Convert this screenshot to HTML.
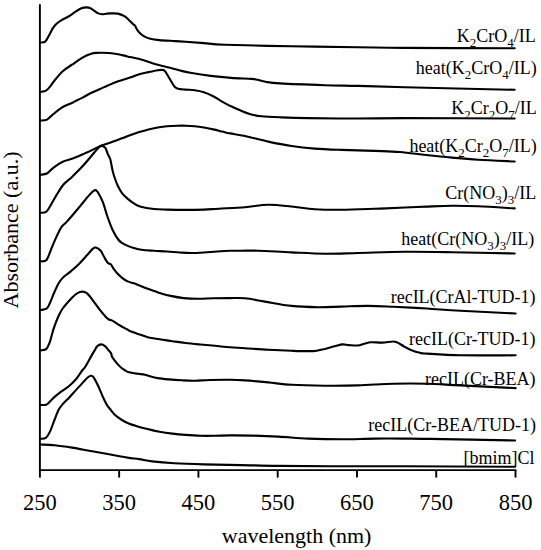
<!DOCTYPE html>
<html><head><meta charset="utf-8"><style>
html,body{margin:0;padding:0;background:#fff;}
svg{display:block;}
text{font-family:"Liberation Serif",serif;fill:#000;}
.lab{font-size:18px;}
.ax{font-size:22.5px;}
.s{font-size:0.72em;}
</style></head><body>
<svg width="541" height="550" viewBox="0 0 541 550">
<rect width="541" height="550" fill="#fff"/>
<g fill="none" stroke="#000" stroke-width="2.1" stroke-linejoin="round" stroke-linecap="round">
<path d="M40.50,42.50 C41.28,42.35 43.77,42.80 45.20,41.60 C46.63,40.40 47.82,37.53 49.10,35.30 C50.38,33.07 51.62,30.15 52.90,28.20 C54.18,26.25 55.28,25.00 56.80,23.60 C58.32,22.20 60.05,20.98 62.00,19.80 C63.95,18.62 66.35,17.77 68.50,16.50 C70.65,15.23 72.75,13.57 74.90,12.20 C77.05,10.83 79.45,9.10 81.40,8.30 C83.35,7.50 85.08,7.40 86.60,7.40 C88.12,7.40 89.22,7.72 90.50,8.30 C91.78,8.88 93.02,10.05 94.30,10.90 C95.58,11.75 96.90,12.85 98.20,13.40 C99.50,13.95 100.80,14.13 102.10,14.20 C103.40,14.27 104.68,13.93 106.00,13.80 C107.32,13.67 108.02,13.43 110.00,13.40 C111.98,13.37 115.50,13.13 117.90,13.60 C120.30,14.07 122.45,15.02 124.40,16.20 C126.35,17.38 128.08,19.30 129.60,20.70 C131.12,22.10 132.55,23.73 133.50,24.60 C134.45,25.47 134.92,25.45 135.30,25.90 C135.68,26.35 135.25,26.33 135.80,27.30 C136.35,28.27 137.27,30.22 138.60,31.70 C139.93,33.18 141.85,35.02 143.80,36.20 C145.75,37.38 147.72,38.15 150.30,38.80 C152.88,39.45 155.18,39.72 159.30,40.10 C163.42,40.48 170.63,40.82 175.00,41.10 C179.37,41.38 180.68,41.47 185.50,41.80 C190.32,42.13 197.32,42.60 203.90,43.10 C210.48,43.60 210.40,44.27 225.00,44.80 C239.60,45.33 269.33,45.90 291.50,46.30 C313.67,46.70 339.08,46.93 358.00,47.20 C376.92,47.47 378.88,47.72 405.00,47.90 C431.12,48.08 496.42,48.23 514.70,48.30"/>
<path d="M40.50,91.90 C41.42,91.68 44.45,91.43 46.00,90.60 C47.55,89.77 48.25,88.75 49.80,86.90 C51.35,85.05 53.15,82.12 55.30,79.50 C57.45,76.88 59.92,73.67 62.70,71.20 C65.48,68.73 68.62,67.02 72.00,64.70 C75.38,62.38 79.92,59.08 83.00,57.30 C86.08,55.52 88.33,54.73 90.50,54.00 C92.67,53.27 92.92,53.07 96.00,52.90 C99.08,52.73 105.30,52.78 109.00,53.00 C112.70,53.22 115.13,53.63 118.20,54.20 C121.27,54.77 123.58,55.52 127.40,56.40 C131.22,57.28 136.67,58.27 141.10,59.50 C145.53,60.73 149.18,62.43 154.00,63.80 C158.82,65.17 165.63,66.57 170.00,67.70 C174.37,68.83 176.82,69.75 180.20,70.60 C183.58,71.45 185.22,71.92 190.30,72.80 C195.38,73.68 203.92,75.05 210.70,75.90 C217.48,76.75 224.23,77.40 231.00,77.90 C237.77,78.40 246.90,78.60 251.30,78.90 C255.70,79.20 255.02,79.22 257.40,79.70 C259.78,80.18 261.83,81.18 265.60,81.80 C269.37,82.42 270.13,82.83 280.00,83.40 C289.87,83.97 311.80,84.78 324.80,85.20 C337.80,85.62 344.63,85.57 358.00,85.90 C371.37,86.23 378.88,86.55 405.00,87.20 C431.12,87.85 496.42,89.37 514.70,89.80"/>
<path d="M40.50,120.50 C41.58,120.35 44.83,120.68 47.00,119.60 C49.17,118.52 50.88,116.10 53.50,114.00 C56.12,111.90 59.62,108.83 62.70,107.00 C65.78,105.17 69.53,104.17 72.00,103.00 C74.47,101.83 75.67,100.93 77.50,100.00 C79.33,99.07 80.83,98.52 83.00,97.40 C85.17,96.28 87.67,94.70 90.50,93.30 C93.33,91.90 96.92,90.38 100.00,89.00 C103.08,87.62 105.97,86.28 109.00,85.00 C112.03,83.72 114.70,82.53 118.20,81.30 C121.70,80.07 126.50,78.77 130.00,77.60 C133.50,76.43 136.12,75.22 139.20,74.30 C142.28,73.38 145.42,72.78 148.50,72.10 C151.58,71.42 155.40,70.57 157.70,70.20 C160.00,69.83 161.07,69.73 162.30,69.90 C163.53,70.07 164.17,70.22 165.10,71.20 C166.03,72.18 166.97,74.25 167.90,75.80 C168.83,77.35 169.62,78.72 170.70,80.50 C171.78,82.28 173.18,85.13 174.40,86.50 C175.62,87.87 176.15,88.18 178.00,88.70 C179.85,89.22 182.72,89.35 185.50,89.60 C188.28,89.85 191.63,89.77 194.70,90.20 C197.77,90.63 200.82,91.20 203.90,92.20 C206.98,93.20 210.38,94.77 213.20,96.20 C216.02,97.63 217.83,99.12 220.80,100.80 C223.77,102.48 227.60,104.63 231.00,106.30 C234.40,107.97 237.82,109.43 241.20,110.80 C244.58,112.17 247.92,113.58 251.30,114.50 C254.68,115.42 256.72,115.83 261.50,116.30 C266.28,116.77 272.22,117.00 280.00,117.30 C287.78,117.60 295.20,117.90 308.20,118.10 C321.20,118.30 341.87,118.50 358.00,118.50 C374.13,118.50 378.88,118.10 405.00,118.10 C431.12,118.10 496.42,118.43 514.70,118.50"/>
<path d="M40.50,174.70 C41.58,174.50 44.83,174.68 47.00,173.50 C49.17,172.32 50.88,169.57 53.50,167.60 C56.12,165.63 59.62,163.17 62.70,161.70 C65.78,160.23 68.62,160.03 72.00,158.80 C75.38,157.57 79.32,155.92 83.00,154.30 C86.68,152.68 91.02,150.57 94.10,149.10 C97.18,147.63 98.42,146.72 101.50,145.50 C104.58,144.28 108.90,143.10 112.60,141.80 C116.30,140.50 120.80,138.78 123.70,137.70 C126.60,136.62 127.42,136.23 130.00,135.30 C132.58,134.37 136.12,133.08 139.20,132.10 C142.28,131.12 145.42,130.17 148.50,129.40 C151.58,128.63 154.62,128.03 157.70,127.50 C160.78,126.97 163.62,126.50 167.00,126.20 C170.38,125.90 174.92,125.78 178.00,125.70 C181.08,125.62 182.72,125.62 185.50,125.70 C188.28,125.78 191.63,125.90 194.70,126.20 C197.77,126.50 200.82,126.97 203.90,127.50 C206.98,128.03 210.12,128.72 213.20,129.40 C216.28,130.08 219.60,130.93 222.40,131.60 C225.20,132.27 226.23,132.67 230.00,133.40 C233.77,134.13 238.63,134.63 245.00,136.00 C251.37,137.37 260.45,139.93 268.20,141.60 C275.95,143.27 283.73,144.83 291.50,146.00 C299.27,147.17 306.48,147.95 314.80,148.60 C323.12,149.25 331.42,149.52 341.40,149.90 C351.38,150.28 364.93,150.55 374.70,150.90 C384.47,151.25 391.45,151.32 400.00,152.00 C408.55,152.68 417.33,154.07 426.00,155.00 C434.67,155.93 443.30,156.82 452.00,157.60 C460.70,158.38 467.75,159.05 478.20,159.70 C488.65,160.35 508.62,161.20 514.70,161.50"/>
<path d="M40.50,212.90 C41.43,212.72 44.55,212.82 46.10,211.80 C47.65,210.78 48.57,208.72 49.80,206.80 C51.03,204.88 52.27,202.45 53.50,200.30 C54.73,198.15 55.67,196.37 57.20,193.90 C58.73,191.43 61.02,187.67 62.70,185.50 C64.38,183.33 65.75,182.33 67.30,180.90 C68.85,179.47 69.38,179.42 72.00,176.90 C74.62,174.38 79.32,169.82 83.00,165.80 C86.68,161.78 91.40,155.93 94.10,152.80 C96.80,149.67 97.92,148.15 99.20,147.00 C100.48,145.85 100.75,145.72 101.80,145.90 C102.85,146.08 104.52,146.77 105.50,148.10 C106.48,149.43 106.97,152.20 107.70,153.90 C108.43,155.60 109.42,157.20 109.90,158.30 C110.38,159.40 110.37,159.53 110.60,160.50 C110.83,161.47 110.93,162.28 111.30,164.10 C111.67,165.92 112.18,168.97 112.80,171.40 C113.42,173.83 114.15,176.27 115.00,178.70 C115.85,181.13 116.70,183.57 117.90,186.00 C119.10,188.43 120.50,191.12 122.20,193.30 C123.90,195.48 126.15,197.42 128.10,199.10 C130.05,200.78 131.92,202.18 133.90,203.40 C135.88,204.62 136.65,205.47 140.00,206.40 C143.35,207.33 149.50,208.47 154.00,209.00 C158.50,209.53 161.75,209.45 167.00,209.60 C172.25,209.75 179.35,209.90 185.50,209.90 C191.65,209.90 198.37,209.80 203.90,209.60 C209.43,209.40 211.85,209.10 218.70,208.70 C225.55,208.30 236.75,207.85 245.00,207.20 C253.25,206.55 260.45,204.92 268.20,204.80 C275.95,204.68 283.73,205.77 291.50,206.50 C299.27,207.23 306.48,208.65 314.80,209.20 C323.12,209.75 331.42,209.87 341.40,209.80 C351.38,209.73 364.10,209.18 374.70,208.80 C385.30,208.42 396.45,207.87 405.00,207.50 C413.55,207.13 418.17,206.88 426.00,206.60 C433.83,206.32 443.30,205.85 452.00,205.80 C460.70,205.75 467.75,205.87 478.20,206.30 C488.65,206.73 508.62,208.05 514.70,208.40"/>
<path d="M40.50,261.30 C41.50,261.08 44.68,262.12 46.50,260.00 C48.32,257.88 49.77,252.42 51.40,248.60 C53.03,244.78 54.65,240.65 56.30,237.10 C57.95,233.55 59.65,229.75 61.30,227.30 C62.95,224.85 64.30,224.45 66.20,222.40 C68.10,220.35 70.25,217.87 72.70,215.00 C75.15,212.13 78.18,208.47 80.90,205.20 C83.62,201.93 86.73,197.88 89.00,195.40 C91.27,192.92 93.12,190.95 94.50,190.30 C95.88,189.65 96.35,190.47 97.30,191.50 C98.25,192.53 99.20,194.52 100.20,196.50 C101.20,198.48 102.18,200.32 103.30,203.40 C104.42,206.48 105.97,212.12 106.90,215.00 C107.83,217.88 107.95,218.20 108.90,220.70 C109.85,223.20 111.05,226.87 112.60,230.00 C114.15,233.13 116.52,237.28 118.20,239.50 C119.88,241.72 121.02,242.20 122.70,243.30 C124.38,244.40 126.45,245.32 128.30,246.10 C130.15,246.88 131.58,247.38 133.80,248.00 C136.02,248.62 138.23,249.33 141.60,249.80 C144.97,250.27 149.77,250.52 154.00,250.80 C158.23,251.08 162.68,251.22 167.00,251.50 C171.32,251.78 175.90,252.25 179.90,252.50 C183.90,252.75 187.00,253.00 191.00,253.00 C195.00,253.00 199.58,252.75 203.90,252.50 C208.22,252.25 212.55,251.78 216.90,251.50 C221.25,251.22 225.88,250.93 230.00,250.80 C234.12,250.67 236.88,250.72 241.60,250.70 C246.32,250.68 249.98,250.42 258.30,250.70 C266.62,250.98 280.42,251.90 291.50,252.40 C302.58,252.90 313.72,253.60 324.80,253.70 C335.88,253.80 344.63,253.32 358.00,253.00 C371.37,252.68 389.33,251.93 405.00,251.80 C420.67,251.67 433.72,251.92 452.00,252.20 C470.28,252.48 504.25,253.28 514.70,253.50"/>
<path d="M40.50,310.00 C41.50,309.78 45.00,309.70 46.50,308.70 C48.00,307.70 48.28,306.53 49.50,304.00 C50.72,301.47 52.30,296.92 53.80,293.50 C55.30,290.08 56.98,286.15 58.50,283.50 C60.02,280.85 61.48,279.13 62.90,277.60 C64.32,276.07 65.63,275.38 67.00,274.30 C68.37,273.22 69.07,272.87 71.10,271.10 C73.13,269.33 76.48,266.43 79.20,263.70 C81.92,260.97 85.10,257.22 87.40,254.70 C89.70,252.18 91.60,249.78 93.00,248.60 C94.40,247.42 94.55,247.28 95.80,247.60 C97.05,247.92 99.15,249.00 100.50,250.50 C101.85,252.00 102.78,254.65 103.90,256.60 C105.02,258.55 106.37,261.05 107.20,262.20 C108.03,263.35 108.25,263.10 108.90,263.50 C109.55,263.90 110.37,263.80 111.10,264.60 C111.83,265.40 112.28,266.85 113.30,268.30 C114.32,269.75 115.63,271.63 117.20,273.30 C118.77,274.97 120.85,276.92 122.70,278.30 C124.55,279.68 126.45,280.77 128.30,281.60 C130.15,282.43 131.95,282.65 133.80,283.30 C135.65,283.95 137.55,284.77 139.40,285.50 C141.25,286.23 142.30,286.73 144.90,287.70 C147.50,288.67 152.55,290.43 155.00,291.30 C157.45,292.17 156.98,292.13 159.60,292.90 C162.22,293.67 166.70,295.03 170.70,295.90 C174.70,296.77 178.98,297.62 183.60,298.10 C188.22,298.58 193.47,298.77 198.40,298.80 C203.33,298.83 207.93,298.42 213.20,298.30 C218.47,298.18 224.70,298.10 230.00,298.10 C235.30,298.10 239.18,297.72 245.00,298.30 C250.82,298.88 257.15,300.33 264.90,301.60 C272.65,302.87 282.63,304.97 291.50,305.90 C300.37,306.83 309.78,307.08 318.10,307.20 C326.42,307.32 333.08,306.82 341.40,306.60 C349.72,306.38 359.32,305.87 368.00,305.90 C376.68,305.93 383.68,306.37 393.50,306.80 C403.32,307.23 415.75,307.83 426.90,308.50 C438.05,309.17 445.62,309.97 460.40,310.80 C475.18,311.63 506.40,313.05 515.60,313.50"/>
<path d="M40.50,350.40 C41.43,350.18 44.55,350.48 46.10,349.10 C47.65,347.72 48.57,345.43 49.80,342.10 C51.03,338.77 52.12,333.28 53.50,329.10 C54.88,324.92 56.57,320.43 58.10,317.00 C59.63,313.57 60.38,311.72 62.70,308.50 C65.02,305.28 69.53,300.27 72.00,297.70 C74.47,295.13 75.82,294.12 77.50,293.10 C79.18,292.08 80.55,291.60 82.10,291.60 C83.65,291.60 85.10,291.77 86.80,293.10 C88.50,294.43 90.15,296.83 92.30,299.60 C94.45,302.37 97.55,306.93 99.70,309.70 C101.85,312.47 103.67,314.57 105.20,316.20 C106.73,317.83 107.67,318.73 108.90,319.50 C110.13,320.27 110.75,319.80 112.60,320.80 C114.45,321.80 117.53,324.05 120.00,325.50 C122.47,326.95 125.73,328.58 127.40,329.50 C129.07,330.42 128.03,330.20 130.00,331.00 C131.97,331.80 136.12,333.22 139.20,334.30 C142.28,335.38 145.10,336.67 148.50,337.50 C151.90,338.33 155.60,338.68 159.60,339.30 C163.60,339.92 168.18,340.58 172.50,341.20 C176.82,341.82 180.88,342.45 185.50,343.00 C190.12,343.55 195.28,344.03 200.20,344.50 C205.12,344.97 210.03,345.33 215.00,345.80 C219.97,346.27 225.00,346.90 230.00,347.30 C235.00,347.70 238.63,347.78 245.00,348.20 C251.37,348.62 260.45,349.37 268.20,349.80 C275.95,350.23 283.98,350.58 291.50,350.80 C299.02,351.02 308.18,351.32 313.30,351.10 C318.42,350.88 318.87,350.25 322.20,349.50 C325.53,348.75 329.98,347.45 333.30,346.60 C336.62,345.75 339.52,344.65 342.10,344.40 C344.68,344.15 346.20,344.92 348.80,345.10 C351.40,345.28 355.12,345.73 357.70,345.50 C360.28,345.27 362.08,344.25 364.30,343.70 C366.52,343.15 368.03,342.38 371.00,342.20 C373.97,342.02 378.40,342.72 382.10,342.60 C385.80,342.48 390.62,341.50 393.20,341.50 C395.78,341.50 395.75,341.75 397.60,342.60 C399.45,343.45 402.08,345.38 404.30,346.60 C406.52,347.82 408.28,348.87 410.90,349.90 C413.52,350.93 417.33,352.18 420.00,352.80 C422.67,353.42 420.17,353.18 426.90,353.60 C433.63,354.02 445.62,355.02 460.40,355.30 C475.18,355.58 506.40,355.30 515.60,355.30"/>
<path d="M40.50,404.90 C41.42,404.88 44.38,405.40 46.00,404.80 C47.62,404.20 48.77,402.62 50.20,401.30 C51.63,399.98 52.67,398.60 54.60,396.90 C56.53,395.20 59.38,392.92 61.80,391.10 C64.22,389.28 66.67,388.07 69.10,386.00 C71.53,383.93 74.22,381.28 76.40,378.70 C78.58,376.12 80.77,372.42 82.20,370.50 C83.63,368.58 83.80,369.05 85.00,367.20 C86.20,365.35 87.92,362.00 89.40,359.40 C90.88,356.80 92.60,353.78 93.90,351.60 C95.20,349.42 95.98,347.50 97.20,346.30 C98.42,345.10 99.90,344.43 101.20,344.40 C102.50,344.37 103.82,345.17 105.00,346.10 C106.18,347.03 107.38,348.95 108.30,350.00 C109.22,351.05 109.98,351.73 110.50,352.40 C111.02,353.07 111.18,353.37 111.40,354.00 C111.62,354.63 111.40,355.30 111.80,356.20 C112.20,357.10 112.72,357.95 113.80,359.40 C114.88,360.85 116.82,363.33 118.30,364.90 C119.78,366.47 121.23,367.68 122.70,368.80 C124.17,369.92 125.43,370.90 127.10,371.60 C128.77,372.30 130.85,372.63 132.70,373.00 C134.55,373.37 136.15,373.52 138.20,373.80 C140.25,374.08 143.28,374.37 145.00,374.70 C146.72,375.03 146.38,375.23 148.50,375.80 C150.62,376.37 154.32,377.50 157.70,378.10 C161.08,378.70 164.78,379.03 168.80,379.40 C172.82,379.77 177.48,380.08 181.80,380.30 C186.12,380.52 190.08,380.75 194.70,380.70 C199.32,380.65 203.62,380.15 209.50,380.00 C215.38,379.85 224.08,379.73 230.00,379.80 C235.92,379.87 238.63,379.97 245.00,380.40 C251.37,380.83 260.45,381.67 268.20,382.40 C275.95,383.13 282.07,384.25 291.50,384.80 C300.93,385.35 313.72,385.60 324.80,385.70 C335.88,385.80 346.55,385.73 358.00,385.40 C369.45,385.07 382.02,383.98 393.50,383.70 C404.98,383.42 415.75,383.42 426.90,383.70 C438.05,383.98 445.62,384.67 460.40,385.40 C475.18,386.13 506.40,387.65 515.60,388.10"/>
<path d="M40.50,438.80 C41.38,438.65 44.18,439.18 45.80,437.90 C47.42,436.62 48.73,434.17 50.20,431.10 C51.67,428.03 53.15,423.13 54.60,419.50 C56.05,415.87 57.45,411.97 58.90,409.30 C60.35,406.63 61.60,405.43 63.30,403.50 C65.00,401.57 66.92,400.02 69.10,397.70 C71.28,395.38 73.97,392.28 76.40,389.60 C78.83,386.92 81.77,383.65 83.70,381.60 C85.63,379.55 86.80,378.27 88.00,377.30 C89.20,376.33 89.93,375.75 90.90,375.80 C91.87,375.85 92.58,375.90 93.80,377.60 C95.02,379.30 96.73,382.90 98.20,386.00 C99.67,389.10 101.15,393.05 102.60,396.20 C104.05,399.35 105.67,402.77 106.90,404.90 C108.13,407.03 108.73,407.40 110.00,409.00 C111.27,410.60 112.52,412.67 114.50,414.50 C116.48,416.33 119.43,418.45 121.90,420.00 C124.37,421.55 127.12,422.87 129.30,423.80 C131.48,424.73 133.35,425.08 135.00,425.60 C136.65,426.12 136.95,426.28 139.20,426.90 C141.45,427.52 145.10,428.50 148.50,429.30 C151.90,430.10 155.60,430.98 159.60,431.70 C163.60,432.42 168.18,433.07 172.50,433.60 C176.82,434.13 180.88,434.53 185.50,434.90 C190.12,435.27 195.28,435.65 200.20,435.80 C205.12,435.95 210.03,435.87 215.00,435.80 C219.97,435.73 223.90,435.43 230.00,435.40 C236.10,435.37 243.57,435.40 251.60,435.60 C259.63,435.80 268.77,436.10 278.20,436.60 C287.63,437.10 297.67,438.15 308.20,438.60 C318.73,439.05 330.32,439.30 341.40,439.30 C352.48,439.30 364.10,438.72 374.70,438.60 C385.30,438.48 395.78,438.55 405.00,438.60 C414.22,438.65 411.65,438.58 430.00,438.90 C448.35,439.22 500.92,440.23 515.10,440.50"/>
<path d="M40.50,444.50 C42.85,444.62 49.35,444.68 54.60,445.20 C59.85,445.72 66.02,446.63 72.00,447.60 C77.98,448.57 84.33,449.88 90.50,451.00 C96.67,452.12 102.85,453.20 109.00,454.30 C115.15,455.40 122.37,456.80 127.40,457.60 C132.43,458.40 135.07,458.47 139.20,459.10 C143.33,459.73 146.33,460.70 152.20,461.40 C158.07,462.10 165.78,462.80 174.40,463.30 C183.02,463.80 192.82,464.10 203.90,464.40 C214.98,464.70 228.57,464.85 240.90,465.10 C253.23,465.35 263.05,465.72 277.90,465.90 C292.75,466.08 308.82,466.15 330.00,466.20 C351.18,466.25 374.17,466.10 405.00,466.20 C435.83,466.30 496.67,466.70 515.00,466.80"/>
</g>
<g stroke="#000" stroke-width="1.9" stroke-linecap="butt">
<line x1="39.9" y1="4.2" x2="39.9" y2="471"/>
<line x1="39" y1="470.1" x2="516.4" y2="470.1"/>
<line x1="39.90" y1="470" x2="39.90" y2="477.6"/>
<line x1="119.17" y1="470" x2="119.17" y2="477.6"/>
<line x1="198.43" y1="470" x2="198.43" y2="477.6"/>
<line x1="277.70" y1="470" x2="277.70" y2="477.6"/>
<line x1="356.97" y1="470" x2="356.97" y2="477.6"/>
<line x1="436.23" y1="470" x2="436.23" y2="477.6"/>
<line x1="515.50" y1="470" x2="515.50" y2="477.6"/>
</g>
<g class="lab">
<text x="535.8" y="42.3" text-anchor="end">K<tspan class="s" dy="5">2</tspan><tspan dy="-5">CrO</tspan><tspan class="s" dy="5">4</tspan><tspan dy="-5">/IL</tspan></text>
<text x="536.8" y="74.2" text-anchor="end">heat(K<tspan class="s" dy="5">2</tspan><tspan dy="-5">CrO</tspan><tspan class="s" dy="5">4</tspan><tspan dy="-5">/IL)</tspan></text>
<text x="536.8" y="114.3" text-anchor="end">K<tspan class="s" dy="5">2</tspan><tspan dy="-5">Cr</tspan><tspan class="s" dy="5">2</tspan><tspan dy="-5">O</tspan><tspan class="s" dy="5">7</tspan><tspan dy="-5">/IL</tspan></text>
<text x="536.8" y="152.2" text-anchor="end">heat(K<tspan class="s" dy="5">2</tspan><tspan dy="-5">Cr</tspan><tspan class="s" dy="5">2</tspan><tspan dy="-5">O</tspan><tspan class="s" dy="5">7</tspan><tspan dy="-5">/IL)</tspan></text>
<text x="536.3" y="199.3" text-anchor="end">Cr(NO<tspan class="s" dy="5">3</tspan><tspan dy="-5">)</tspan><tspan class="s" dy="5">3</tspan><tspan dy="-5">/IL</tspan></text>
<text x="534.2" y="245.4" text-anchor="end">heat(Cr(NO<tspan class="s" dy="5">3</tspan><tspan dy="-5">)</tspan><tspan class="s" dy="5">3</tspan><tspan dy="-5">/IL)</tspan></text>
<text x="535.6" y="303.4" text-anchor="end">recIL(CrAl-TUD-1)</text>
<text x="535.6" y="345.3" text-anchor="end">recIL(Cr-TUD-1)</text>
<text x="535.6" y="385.4" text-anchor="end">recIL(Cr-BEA)</text>
<text x="535.9" y="430.6" text-anchor="end">recIL(Cr-BEA/TUD-1)</text>
<text x="534.6" y="463.7" text-anchor="end">[bmim]Cl</text>
</g>
<g class="ax">
<text x="39.90" y="509.6" text-anchor="middle">250</text>
<text x="119.17" y="509.6" text-anchor="middle">350</text>
<text x="198.43" y="509.6" text-anchor="middle">450</text>
<text x="277.70" y="509.6" text-anchor="middle">550</text>
<text x="356.97" y="509.6" text-anchor="middle">650</text>
<text x="436.23" y="509.6" text-anchor="middle">750</text>
<text x="515.50" y="509.6" text-anchor="middle">850</text>
<text x="296.6" y="543.1" text-anchor="middle" style="font-size:22px">wavelength (nm)</text>
<text transform="translate(18.3,230) rotate(-90)" text-anchor="middle" style="font-size:22px">Absorbance (a.u.)</text>
</g>
</svg>
</body></html>
